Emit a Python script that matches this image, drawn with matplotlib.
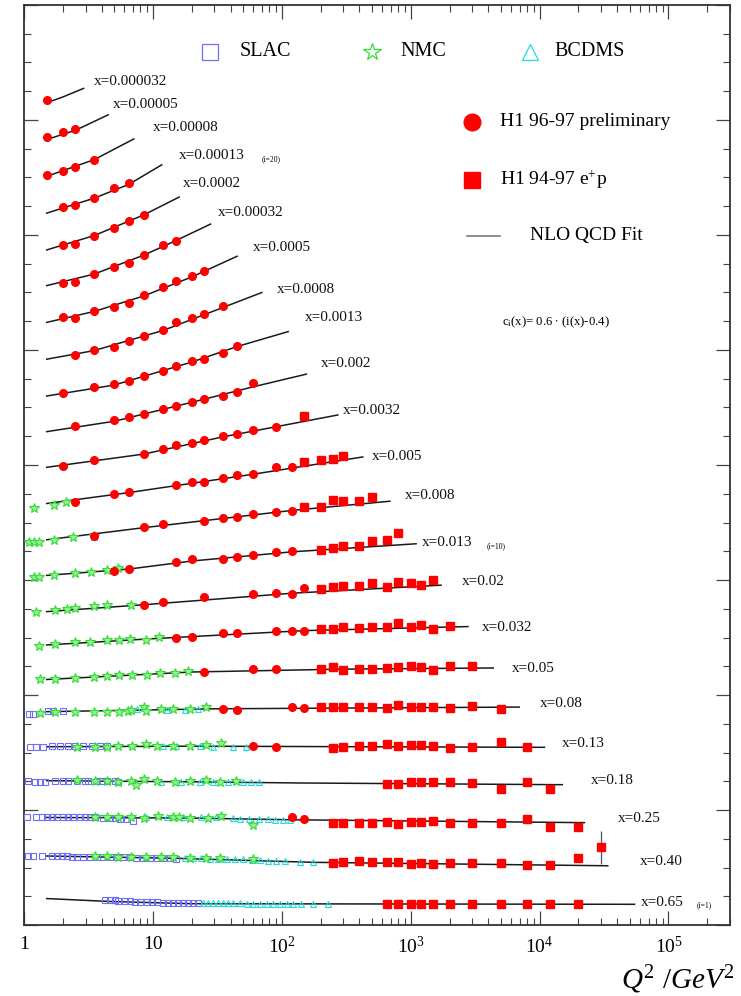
import numpy as np
import matplotlib
matplotlib.use("Agg")
import matplotlib.pyplot as plt
from matplotlib.ticker import LogLocator, MultipleLocator, NullFormatter, FixedLocator, FixedFormatter

plt.rcParams['font.family'] = ['Liberation Serif', 'DejaVu Serif']
plt.rcParams['mathtext.fontset'] = 'custom'
plt.rcParams['mathtext.rm'] = 'Liberation Serif'
plt.rcParams['mathtext.it'] = 'Liberation Serif:italic'

# ---------------- data (ordered from x=0.000032 down to x=0.65) ----------------
x_labels = ["0.000032", "0.00005", "0.00008", "0.00013", "0.0002", "0.00032", "0.0005",
            "0.0008", "0.0013", "0.002", "0.0032", "0.005", "0.008", "0.013", "0.02",
            "0.032", "0.05", "0.08", "0.13", "0.18", "0.25", "0.40", "0.65"]
bin_index = [23, 22, 21, 20, 19, 18, 17, 16, 15, 14, 13, 12, 11, 10, 9, 8, 7, 6, 5, 4, 3, 2, 1]

# NLO QCD fit (Q2, F2)
fit_q2 = [
    [1.5, 2.0, 2.9], [1.5, 2.5, 4.5], [1.5, 3.5, 7.1], [1.5, 3.5, 6.5, 11.7],
    [1.5, 3.5, 8.5, 16], [1.5, 3.5, 8.5, 15, 28], [1.5, 3.5, 8.5, 20, 45],
    [1.5, 3.5, 12, 35, 70], [1.5, 5, 20, 45, 112], [1.5, 5, 20, 60, 155],
    [1.5, 8.5, 35, 272], [1.5, 6.5, 60, 425], [1.5, 8.5, 120, 690],
    [1.5, 6.5, 20, 120, 1100], [1.5, 8.5, 120, 1720], [1.5, 10, 150, 2780],
    [1.5, 20, 300, 4370], [1.5, 30, 6950], [1.5, 20, 10900], [1.5, 20, 137, 15000],
    [1.5, 20, 120, 22300], [1.5, 15, 175, 33800], [1.5, 4.5, 20, 54500]]
fit_f2 = [
    [0.74, 0.84, 0.99], [0.70, 0.86, 1.13], [0.66, 0.95, 1.31], [0.62, 0.88, 1.12, 1.46],
    [0.58, 0.83, 1.19, 1.50], [0.56, 0.76, 1.09, 1.34, 1.63], [0.52, 0.71, 0.98, 1.31, 1.67],
    [0.48, 0.63, 0.98, 1.38, 1.64], [0.44, 0.63, 1.03, 1.30, 1.56], [0.42, 0.60, 0.93, 1.20, 1.42],
    [0.40, 0.63, 0.93, 1.31], [0.37, 0.56, 0.88, 1.18], [0.34, 0.55, 0.85, 1.01],
    [0.32, 0.43, 0.57, 0.73, 0.87], [0.29, 0.41, 0.61, 0.75], [0.31, 0.42, 0.56, 0.63],
    [0.31, 0.44, 0.49, 0.51], [0.35, 0.40, 0.43], [0.34, 0.35, 0.33], [0.35, 0.33, 0.31, 0.28],
    [0.31, 0.30, 0.27, 0.22], [0.24, 0.20, 0.13, 0.07], [0.10, 0.05, 0.01, 0.00]]

# H1 96-97 preliminary (circles)
h1a_q2 = [
    [1.5], [1.5, 2, 2.5], [1.5, 2, 2.5, 3.5], [2, 2.5, 3.5, 5, 6.5],
    [2, 2.5, 3.5, 5, 6.5, 8.5], [2, 2.5, 3.5, 5, 6.5, 8.5, 12, 15],
    [2, 2.5, 3.5, 5, 6.5, 8.5, 12, 15, 20, 25],
    [2.5, 3.5, 5, 6.5, 8.5, 12, 15, 20, 25, 35],
    [2, 3.5, 5, 6.5, 8.5, 12, 15, 20, 25, 35, 45],
    [2.5, 5, 6.5, 8.5, 12, 15, 20, 25, 35, 45, 60],
    [2, 3.5, 8.5, 12, 15, 20, 25, 35, 45, 60, 90],
    [2.5, 5, 6.5, 15, 20, 25, 35, 45, 60, 90, 120],
    [3.5, 8.5, 12, 25, 35, 45, 60, 90, 120],
    [5, 6.5, 15, 20, 35, 45, 60, 90, 120],
    [8.5, 12, 25, 60, 90, 120, 150],
    [15, 20, 35, 45, 90, 120, 150],
    [25, 60, 90], [35, 45, 120, 150], [60, 90], [], [120, 150], [], []]
h1a_f2 = [
    [0.79], [0.74, 0.83, 0.89], [0.69, 0.75, 0.82, 0.95], [0.72, 0.76, 0.88, 1.05, 1.14],
    [0.66, 0.69, 0.83, 0.97, 1.09, 1.19], [0.61, 0.63, 0.76, 0.89, 0.96, 1.10, 1.26, 1.34],
    [0.61, 0.59, 0.71, 0.78, 0.86, 0.99, 1.14, 1.24, 1.32, 1.41],
    [0.55, 0.64, 0.70, 0.80, 0.88, 0.99, 1.12, 1.19, 1.26, 1.41],
    [0.50, 0.60, 0.65, 0.70, 0.79, 0.87, 0.96, 1.05, 1.08, 1.19, 1.31],
    [0.52, 0.62, 0.67, 0.72, 0.81, 0.87, 0.94, 0.98, 1.04, 1.11, 1.26],
    [0.42, 0.53, 0.64, 0.72, 0.79, 0.82, 0.87, 0.95, 0.98, 1.05, 1.10],
    [0.40, 0.53, 0.57, 0.70, 0.74, 0.74, 0.81, 0.86, 0.89, 1.00, 1.01],
    [0.40, 0.56, 0.61, 0.66, 0.71, 0.74, 0.79, 0.83, 0.84],
    [0.40, 0.43, 0.56, 0.60, 0.61, 0.64, 0.67, 0.73, 0.74],
    [0.41, 0.45, 0.54, 0.59, 0.61, 0.59, 0.70],
    [0.44, 0.45, 0.52, 0.52, 0.55, 0.55, 0.55],
    [0.44, 0.49, 0.49], [0.40, 0.38, 0.44, 0.41], [0.35, 0.33], [], [0.31, 0.28], [], []]

# H1 94-97 e+p (squares)
h1b_q2 = [
    [], [], [], [], [], [], [], [], [], [], [150],
    [150, 200, 250, 300],
    [150, 200, 250, 300, 400, 500],
    [200, 250, 300, 400, 500, 650, 800],
    [200, 250, 300, 400, 500, 650, 800, 1000, 1200, 1500],
    [200, 250, 300, 400, 500, 650, 800, 1000, 1200, 1500, 2000],
    [200, 250, 300, 400, 500, 650, 800, 1000, 1200, 1500, 2000, 3000],
    [200, 250, 300, 400, 500, 650, 800, 1000, 1200, 1500, 2000, 3000, 5000],
    [250, 300, 400, 500, 650, 800, 1000, 1200, 1500, 2000, 3000, 5000, 8000],
    [650, 800, 1000, 1200, 1500, 2000, 3000, 5000, 8000, 12000],
    [250, 300, 400, 500, 650, 800, 1000, 1200, 1500, 2000, 3000, 5000, 8000, 12000, 20000],
    [250, 300, 400, 500, 650, 800, 1000, 1200, 1500, 2000, 3000, 5000, 8000, 12000, 20000, 30000],
    [650, 800, 1000, 1200, 1500, 2000, 3000, 5000, 8000, 12000, 20000]]
h1b_f2 = [
    [], [], [], [], [], [], [], [], [], [], [1.29],
    [1.10, 1.12, 1.15, 1.20],
    [0.91, 0.91, 1.03, 1.01, 1.01, 1.08],
    [0.76, 0.80, 0.84, 0.84, 0.91, 0.93, 1.05],
    [0.68, 0.72, 0.73, 0.73, 0.79, 0.72, 0.80, 0.78, 0.76, 0.84],
    [0.59, 0.59, 0.62, 0.61, 0.63, 0.62, 0.69, 0.63, 0.66, 0.59, 0.64],
    [0.50, 0.52, 0.48, 0.49, 0.50, 0.51, 0.53, 0.55, 0.52, 0.48, 0.55, 0.54],
    [0.43, 0.43, 0.44, 0.44, 0.43, 0.42, 0.46, 0.43, 0.43, 0.44, 0.41, 0.45, 0.40],
    [0.32, 0.33, 0.36, 0.35, 0.39, 0.35, 0.37, 0.37, 0.35, 0.32, 0.33, 0.42, 0.34],
    [0.29, 0.29, 0.32, 0.32, 0.32, 0.32, 0.31, 0.21, 0.32, 0.20],
    [0.22, 0.22, 0.22, 0.22, 0.24, 0.20, 0.24, 0.24, 0.25, 0.22, 0.22, 0.21, 0.28, 0.15, 0.15],
    [0.11, 0.13, 0.16, 0.13, 0.13, 0.13, 0.10, 0.11, 0.10, 0.11, 0.11, 0.11, 0.08, 0.08, 0.20, 0.39],
    [0.01, 0.01, 0.01, 0.01, 0.00, 0.01, 0.00, 0.01, 0.01, 0.00, 0.01]]
# visible error bars (bin index i, Q2, error)
h1b_err_i = [3, 2]
h1b_err_q2 = [20000, 30000]
h1b_err = [0.08, 0.29]

# NMC (stars), keyed by bin index i
nmc_i = [12, 11, 10, 9, 8, 7, 6, 5, 4, 3, 2]
nmc_q2 = [
    [1.2, 1.7, 2.1],
    [1.1, 1.2, 1.3, 1.7, 2.4, 3.5],
    [1.2, 1.3, 1.7, 2.5, 3.3, 4.4, 5.4],
    [1.25, 1.75, 2.15, 2.5, 3.5, 4.4, 6.8],
    [1.3, 1.75, 2.5, 3.25, 4.4, 5.5, 6.6, 8.8, 11.2],
    [1.33, 1.75, 2.5, 3.5, 4.4, 5.5, 6.9, 9.0, 11.3, 14.8, 18.8],
    [1.33, 1.75, 2.5, 3.5, 4.4, 5.5, 6.4, 6.8, 8.5, 8.8, 11.6, 14.3, 19.4, 26],
    [2.6, 3.55, 4.4, 5.4, 6.9, 8.8, 10.7, 14.4, 19.4, 26, 34],
    [2.6, 3.55, 4.4, 5.4, 6.8, 7.4, 8.5, 10.7, 14.8, 19.4, 26, 33, 44.5],
    [3.55, 4.4, 5.4, 6.8, 8.5, 11, 14.4, 15.8, 19.4, 26.7, 34, 60],
    [3.55, 4.4, 5.4, 6.8, 8.9, 11.5, 14.3, 19.4, 26, 33, 60]]
nmc_f2 = [
    [0.30, 0.35, 0.40],
    [0.30, 0.30, 0.30, 0.34, 0.38, 0.40],
    [0.29, 0.30, 0.32, 0.36, 0.38, 0.41, 0.45],
    [0.28, 0.31, 0.34, 0.36, 0.38, 0.40, 0.41],
    [0.30, 0.33, 0.36, 0.36, 0.40, 0.39, 0.42, 0.40, 0.45],
    [0.32, 0.31, 0.33, 0.35, 0.37, 0.38, 0.38, 0.39, 0.42, 0.42, 0.45],
    [0.33, 0.34, 0.35, 0.35, 0.35, 0.35, 0.37, 0.38, 0.44, 0.36, 0.40, 0.40, 0.40, 0.44],
    [0.33, 0.34, 0.34, 0.35, 0.35, 0.39, 0.36, 0.35, 0.36, 0.37, 0.40],
    [0.36, 0.34, 0.34, 0.32, 0.35, 0.28, 0.38, 0.35, 0.32, 0.35, 0.36, 0.33, 0.35],
    [0.31, 0.31, 0.31, 0.31, 0.30, 0.34, 0.31, 0.31, 0.30, 0.30, 0.34, 0.18],
    [0.24, 0.24, 0.23, 0.23, 0.22, 0.22, 0.22, 0.21, 0.21, 0.21, 0.19]]

# BCDMS (triangles)
bcdms_i = [6, 5, 4, 3, 2, 1]
bcdms_q2 = [
    [7.5, 12.8, 17.8, 22.5],
    [12, 15.2, 23, 29, 42, 53],
    [11.5, 16.6, 23, 29, 38.5, 50, 58, 66],
    [8.9, 12.8, 17, 23.7, 31, 42, 47, 56, 67, 78, 88, 102, 115],
    [17.6, 20.4, 23.7, 27.6, 32, 37.3, 43.3, 50.3, 58.4, 67.6, 78.3, 90.9, 105.7, 138, 175],
    [24.5, 26.8, 29.3, 32, 35, 38.3, 41.9, 47.3, 53.4, 60.3, 67.6, 76.3, 86, 96.9, 109,
     123, 142, 175, 228]]
bcdms_f2 = [
    [0.40, 0.38, 0.38, 0.39],
    [0.35, 0.35, 0.35, 0.34, 0.34, 0.34],
    [0.33, 0.33, 0.32, 0.32, 0.32, 0.32, 0.32, 0.32],
    [0.31, 0.31, 0.31, 0.31, 0.31, 0.30, 0.29, 0.29, 0.29, 0.28, 0.27, 0.27, 0.27],
    [0.20, 0.20, 0.20, 0.19, 0.19, 0.19, 0.18, 0.18, 0.17, 0.17, 0.16, 0.16, 0.15, 0.13, 0.13],
    [0.02, 0.02, 0.02, 0.02, 0.02, 0.02, 0.02, 0.02, 0.01, 0.01, 0.01, 0.01, 0.01, 0.01, 0.01,
     0.01, 0.01, 0.01, 0.01]]

# SLAC (open squares)
slac_i = [6, 5, 4, 3, 2, 1]
slac_q2 = [
    [1.10, 1.18, 1.54, 1.69, 2.02],
    [1.11, 1.25, 1.41, 1.64, 1.90, 2.2, 2.48, 2.88, 3.35, 3.88, 4.37],
    [1.08, 1.22, 1.33, 1.46, 1.74, 2.02, 2.2, 2.56, 2.97, 3.15, 3.66, 4.0, 4.37, 5.08, 5.39],
    [1.06, 1.25, 1.37, 1.50, 1.64, 1.80, 2.02, 2.20, 2.41, 2.72, 2.97, 3.25, 3.55, 4.13,
     4.65, 5.08, 5.56, 6.26, 7.0],
    [1.08, 1.18, 1.37, 1.64, 1.80, 1.96, 2.14, 2.35, 2.56, 2.88, 3.25, 3.66, 4.13, 4.65,
     5.24, 5.89, 6.63, 7.46, 8.4, 9.5, 10.7, 12, 13.5, 15.2],
    [4.24, 4.64, 5.08, 5.39, 6.06, 6.63, 7.25, 7.92, 8.92, 9.76, 10.7, 12, 13.1, 14.4, 15.7,
     17.2, 18.8, 20.5, 22.4]]
slac_f2 = [
    [0.31, 0.31, 0.37, 0.36, 0.36],
    [0.34, 0.34, 0.34, 0.35, 0.35, 0.36, 0.36, 0.36, 0.36, 0.35, 0.35],
    [0.34, 0.33, 0.32, 0.33, 0.35, 0.35, 0.35, 0.35, 0.35, 0.34, 0.34, 0.34, 0.35, 0.35, 0.33],
    [0.31, 0.31, 0.31, 0.31, 0.31, 0.31, 0.31, 0.31, 0.31, 0.31, 0.31, 0.31, 0.31, 0.30,
     0.30, 0.30, 0.28, 0.28, 0.25],
    [0.24, 0.24, 0.24, 0.24, 0.24, 0.24, 0.24, 0.23, 0.23, 0.23, 0.23, 0.23, 0.22, 0.22,
     0.22, 0.22, 0.22, 0.21, 0.21, 0.21, 0.21, 0.20, 0.20, 0.19],
    [0.08, 0.08, 0.07, 0.06, 0.05, 0.05, 0.04, 0.04, 0.04, 0.04, 0.04, 0.03, 0.03, 0.03,
     0.03, 0.03, 0.03, 0.02, 0.02]]


def c_i(i):
    return 0.6 * (i - 0.4)


# ---------------- layout ----------------
label_pos = [(3.49, 14.67), (4.90, 14.27), (10.0, 13.87), (15.9, 13.38), (17.1, 12.89),
             (31.9, 12.39), (59.5, 11.79), (91.5, 11.05), (150, 10.57), (200, 9.77),
             (297, 8.95), (499, 8.15), (897, 7.47), (1210, 6.66), (2490, 5.98),
             (3560, 5.17), (6060, 4.46), (10000, 3.85), (14960, 3.15), (24800, 2.51),
             (40200, 1.86), (59700, 1.10), (60800, 0.40)]

RED = '#ff0000'
GREEN = '#33dd33'
CYAN = '#22dddd'
BLUE = '#6f6fff'
LINE = '#1a1a1a'

fig = plt.figure(figsize=(7.41, 9.96), dpi=100)
ax = fig.add_axes([24 / 741, 1 - 925 / 996, 706 / 741, 920 / 996])

ax.set_xscale('log')
ax.set_xlim(1, 3e5)
ax.set_ylim(0, 16)

# fits
for k, i in enumerate(bin_index):
    off = c_i(i)
    ax.plot(fit_q2[k], np.array(fit_f2[k]) + off, color=LINE, lw=1.1, zorder=2)

# SLAC
for k, i in enumerate(slac_i):
    ax.plot(slac_q2[k], np.array(slac_f2[k]) + c_i(i), ls='none', marker='s', ms=5,
            mfc='none', mec=BLUE, mew=0.8, zorder=3)
# NMC
for k, i in enumerate(nmc_i):
    ax.plot(nmc_q2[k], np.array(nmc_f2[k]) + c_i(i), ls='none', marker='*', ms=7.5,
            mfc='#99ee99', mec=GREEN, mew=0.8, zorder=4)
# BCDMS
for k, i in enumerate(bcdms_i):
    ax.plot(bcdms_q2[k], np.array(bcdms_f2[k]) + c_i(i), ls='none', marker='^', ms=5,
            mfc='none', mec=CYAN, mew=0.8, zorder=3)
# H1 circles / squares
for k, i in enumerate(bin_index):
    off = c_i(i)
    if h1a_q2[k]:
        ax.plot(h1a_q2[k], np.array(h1a_f2[k]) + off, ls='none', marker='o', ms=5.5,
                mfc=RED, mec=RED, zorder=5)
    if h1b_q2[k]:
        ax.plot(h1b_q2[k], np.array(h1b_f2[k]) + off, ls='none', marker='s', ms=5.2,
                mfc=RED, mec=RED, zorder=5)
for i, q, e in zip(h1b_err_i, h1b_err_q2, h1b_err):
    k = bin_index.index(i)
    f = h1b_f2[k][h1b_q2[k].index(q)]
    ax.errorbar([q], [f + c_i(i)], yerr=[e], fmt='none', ecolor='#555555', elinewidth=0.9,
                capsize=0, zorder=4)

# bin labels
for k, (q, y) in enumerate(label_pos):
    ax.text(q, y, 'x=' + x_labels[k], fontsize=11, ha='left', va='center', color='#111111')
ax.text(70, 13.31, '(i=20)', fontsize=5.5, ha='left', va='center')
ax.text(3880, 6.59, '(i=10)', fontsize=5.5, ha='left', va='center')
ax.text(166000, 0.35, '(i=1)', fontsize=5.5, ha='left', va='center')

# legend (manual)
T = ax.transAxes
ax.plot([0.263], [0.949], transform=T, marker='s', ms=11, mfc='none', mec=BLUE, mew=0.9, clip_on=False)
ax.text(0.305, 0.949, 'SLAC', transform=T, fontsize=14.5, va='center', ha='left')
ax.plot([0.493], [0.949], transform=T, marker='*', ms=13, mfc='none', mec=GREEN, mew=0.9, clip_on=False)
ax.text(0.533, 0.949, 'NMC', transform=T, fontsize=14.5, va='center', ha='left')
ax.plot([0.717], [0.949], transform=T, marker='^', ms=11, mfc='none', mec=CYAN, mew=0.9, clip_on=False)
ax.text(0.752, 0.949, 'BCDMS', transform=T, fontsize=14.5, va='center', ha='left')
ax.plot([0.635], [0.873], transform=T, marker='o', ms=12, mfc=RED, mec=RED, clip_on=False)
ax.text(0.674, 0.873, 'H1 96-97 preliminary', transform=T, fontsize=14, va='center', ha='left')
ax.plot([0.635], [0.810], transform=T, marker='s', ms=11, mfc=RED, mec=RED, clip_on=False)
ax.text(0.674, 0.810, 'H1 94-97 e$^{+}$p', transform=T, fontsize=14, va='center', ha='left')
ax.plot([0.627, 0.674], [0.749, 0.749], transform=T, color='#888888', lw=1.3)
ax.text(0.717, 0.749, 'NLO QCD Fit', transform=T, fontsize=14, va='center', ha='left')
ax.text(0.677, 0.655, 'c$_{\\rm i}$(x)= 0.6 $\\bullet$ (i(x)-0.4)', transform=T, fontsize=9.2,
        va='center', ha='left')

# axes styling
for s in ax.spines.values():
    s.set_linewidth(1.3)
    s.set_color('#333333')
ax.xaxis.set_major_locator(FixedLocator([1, 10, 1e2, 1e3, 1e4, 1e5]))
ax.xaxis.set_major_formatter(FixedFormatter(['1', '10', '$10^{2}$', '$10^{3}$', '$10^{4}$', '$10^{5}$']))
ax.xaxis.set_minor_locator(LogLocator(base=10, subs=np.arange(2, 10), numticks=20))
ax.xaxis.set_minor_formatter(NullFormatter())
ax.yaxis.set_major_locator(MultipleLocator(2))
ax.yaxis.set_minor_locator(MultipleLocator(0.5))
ax.tick_params(axis='both', which='both', direction='in', top=True, right=True, color='#444444')
ax.tick_params(axis='both', which='major', length=10, width=0.9)
ax.tick_params(axis='both', which='minor', length=5, width=0.8)
ax.tick_params(axis='x', which='major', labelsize=14, pad=8)
ax.tick_params(axis='y', which='both', labelleft=False)

fig.text(735 / 741, 1 - 989 / 996, '$Q^{2}$ /$GeV^{2}$', fontsize=21, ha='right', va='baseline')

fig.savefig('out.png', dpi=100)
